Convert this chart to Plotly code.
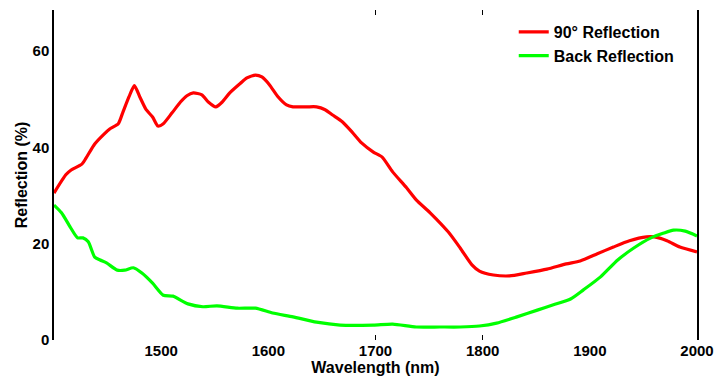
import plotly.graph_objects as go

# Red: 90° Reflection
wl_red = [1400, 1411, 1416, 1426, 1430, 1438, 1446, 1452, 1460, 1464, 1470, 1475, 1480, 1486,
          1492, 1497, 1502, 1510, 1518, 1524, 1530, 1538, 1544, 1551, 1557, 1564, 1574, 1580,
          1588, 1594, 1601, 1609, 1617, 1623, 1636, 1645, 1653, 1660, 1669, 1678, 1687, 1698,
          1706, 1716, 1729, 1738, 1751, 1768, 1779, 1790, 1797, 1810, 1825, 1841, 1860, 1878,
          1891, 1907, 1922, 1937, 1953, 1960, 1972, 1984, 2000]
refl_90 = [30.5, 34.3, 35.3, 36.5, 37.8, 40.7, 42.6, 43.8, 44.9, 47.1, 50.5, 52.8, 50.5, 47.8,
           46.3, 44.4, 44.9, 47.1, 49.4, 50.7, 51.3, 50.9, 49.4, 48.4, 49.4, 51.3, 53.3, 54.4,
           55.0, 54.6, 53.0, 50.5, 48.8, 48.4, 48.4, 48.4, 47.8, 46.7, 45.3, 43.2, 40.9, 39.0,
           38.0, 34.9, 31.6, 29.1, 26.4, 22.4, 19.1, 15.6, 14.3, 13.5, 13.3, 13.9, 14.7, 15.8,
           16.4, 17.9, 19.3, 20.6, 21.4, 21.4, 20.6, 19.3, 18.3]

# Green: Back Reflection
wl_green = [1400, 1407, 1415, 1422, 1427, 1432, 1438, 1443, 1449, 1459, 1466, 1474, 1482, 1492,
            1502, 1511, 1525, 1539, 1552, 1571, 1588, 1604, 1623, 1645, 1667, 1698, 1716, 1738,
            1760, 1779, 1797, 1813, 1832, 1851, 1866, 1882, 1894, 1910, 1926, 1941, 1957, 1969,
            1978, 1989, 2000]
refl_back = [28.0, 26.4, 23.5, 21.2, 21.2, 20.4, 17.2, 16.6, 16.0, 14.5, 14.5, 15.0, 13.9, 11.8,
             9.3, 9.1, 7.5, 6.9, 7.1, 6.6, 6.6, 5.6, 4.8, 3.7, 3.1, 3.1, 3.3, 2.7,
             2.7, 2.7, 2.9, 3.5, 4.8, 6.2, 7.3, 8.5, 10.4, 13.1, 16.6, 19.1, 21.2, 22.2,
             22.8, 22.6, 21.6]

x_labels = [1500, 1600, 1700, 1800, 1900, 2000]
x_minor_ticks = [1700, 1800]
y_labels = [0, 20, 40, 60]

FONT = "Liberation Sans, Arial, sans-serif"

fig = go.Figure()
fig.add_trace(go.Scatter(x=wl_red, y=refl_90, mode="lines", name="90° Reflection",
                         line=dict(color="#ff0000", width=3.2, shape="spline", smoothing=0.6)))
fig.add_trace(go.Scatter(x=wl_green, y=refl_back, mode="lines", name="Back Reflection",
                         line=dict(color="#00ff00", width=3.2, shape="spline", smoothing=0.6)))
fig.add_trace(go.Scatter(x=[None], y=[None], xaxis="x2", showlegend=False, hoverinfo="skip"))

fig.update_layout(
    width=715, height=379,
    margin=dict(l=54, r=18, t=10, b=39, autoexpand=False),
    plot_bgcolor="white", paper_bgcolor="white",
    font=dict(family=FONT, color="black", size=15, weight="bold"),
    showlegend=True,
    legend=dict(x=0.715, y=0.985, xanchor="left", yanchor="top",
                bgcolor="rgba(0,0,0,0)", itemwidth=30, tracegroupgap=0,
                font=dict(family=FONT, size=16, color="black", weight="bold")),
    xaxis=dict(range=[1400, 2000], tickvals=x_labels, ticks="", showline=False,
               showgrid=False, zeroline=False, automargin=False,
               tickfont=dict(family=FONT, size=15, weight="bold"),
               title=dict(text="Wavelength (nm)", standoff=2,
                          font=dict(family=FONT, size=16, weight="bold"))),
    xaxis2=dict(range=[1400, 2000], overlaying="x", anchor="y", side="bottom",
                tickvals=x_minor_ticks, ticks="inside", ticklen=5, tickwidth=1,
                tickcolor="black", showticklabels=False, mirror="ticks", automargin=False,
                showline=False, showgrid=False, zeroline=False),
    yaxis=dict(range=[0, 68.5], tickvals=y_labels, ticks="", showline=True,
               linecolor="black", linewidth=1.5, mirror=True, automargin=False,
               showgrid=False, zeroline=False,
               tickfont=dict(family=FONT, size=15, weight="bold"),
               title=dict(text="Reflection (%)", standoff=1,
                          font=dict(family=FONT, size=16, weight="bold"))),
)

fig.write_html("out.html")
